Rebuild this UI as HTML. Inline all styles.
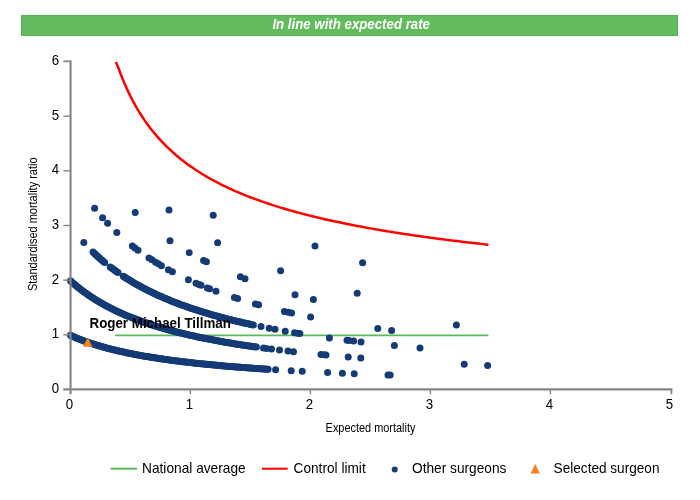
<!DOCTYPE html>
<html lang="en"><head><meta charset="utf-8"><title>Funnel plot</title>
<style>html,body{margin:0;padding:0;background:#fff;}svg{display:block;}text{font-family:"Liberation Sans",Arial,sans-serif;}</style></head><body>
<svg width="700" height="500" viewBox="0 0 700 500">
<rect width="700" height="500" fill="#fff"/>
<rect x="21.5" y="15.5" width="656" height="20" fill="#62bb5d" stroke="#56b455" stroke-width="1"/>
<text x="272.4" y="29.1" font-size="14.3" font-weight="bold" font-style="italic" fill="#fff" textLength="157.6" lengthAdjust="spacingAndGlyphs">In line with expected rate</text>
<line x1="116" y1="335.4" x2="487.6" y2="335.4" stroke="#5cb85c" stroke-width="1.9" stroke-linecap="round"/>
<path d="M115.86 61.90 L118.26 67.48 L120.66 73.96 L123.06 80.00 L125.46 85.63 L127.86 90.91 L130.26 95.86 L132.66 100.53 L135.06 104.94 L137.46 109.10 L139.86 113.05 L142.26 116.79 L144.66 120.36 L147.06 123.75 L149.46 126.99 L151.86 130.09 L154.26 133.05 L156.66 135.88 L159.06 138.60 L161.46 141.21 L163.86 143.72 L166.26 146.14 L168.66 148.46 L171.06 150.71 L173.46 152.87 L175.86 154.96 L178.26 156.98 L180.66 158.93 L183.06 160.82 L185.46 162.65 L187.86 164.42 L190.26 166.14 L192.66 167.81 L195.06 169.43 L197.46 171.01 L199.86 172.54 L202.26 174.03 L204.66 175.48 L207.06 176.89 L209.46 178.26 L211.86 179.60 L214.26 180.90 L216.66 182.17 L219.06 183.42 L221.46 184.63 L223.86 185.81 L226.26 186.97 L228.66 188.10 L231.06 189.20 L233.46 190.28 L235.86 191.33 L238.26 192.37 L240.66 193.38 L243.06 194.37 L245.46 195.34 L247.86 196.29 L250.26 197.22 L252.66 198.13 L255.06 199.03 L257.46 199.90 L259.86 200.76 L262.26 201.61 L264.66 202.44 L267.06 203.25 L269.46 204.05 L271.86 204.83 L274.26 205.60 L276.66 206.36 L279.06 207.10 L281.46 207.83 L283.86 208.55 L286.26 209.26 L288.66 209.95 L291.06 210.64 L293.46 211.31 L295.86 211.97 L298.26 212.62 L300.66 213.26 L303.06 213.89 L305.46 214.51 L307.86 215.13 L310.26 215.73 L312.66 216.32 L315.06 216.91 L317.46 217.48 L319.86 218.05 L322.26 218.61 L324.66 219.16 L327.06 219.71 L329.46 220.24 L331.86 220.77 L334.26 221.30 L336.66 221.81 L339.06 222.32 L341.46 222.82 L343.86 223.31 L346.26 223.80 L348.66 224.28 L351.06 224.76 L353.46 225.23 L355.86 225.69 L358.26 226.15 L360.66 226.60 L363.06 227.05 L365.46 227.49 L367.86 227.93 L370.26 228.36 L372.66 228.78 L375.06 229.20 L377.46 229.62 L379.86 230.03 L382.26 230.43 L384.66 230.83 L387.06 231.23 L389.46 231.62 L391.86 232.01 L394.26 232.39 L396.66 232.77 L399.06 233.15 L401.46 233.52 L403.86 233.89 L406.26 234.25 L408.66 234.61 L411.06 234.96 L413.46 235.31 L415.86 235.66 L418.26 236.01 L420.66 236.35 L423.06 236.68 L425.46 237.02 L427.86 237.35 L430.26 237.67 L432.66 238.00 L435.06 238.32 L437.46 238.64 L439.86 238.95 L442.26 239.26 L444.66 239.57 L447.06 239.88 L449.46 240.18 L451.86 240.48 L454.26 240.77 L456.66 241.07 L459.06 241.36 L461.46 241.65 L463.86 241.93 L466.26 242.22 L468.66 242.50 L471.06 242.78 L473.46 243.05 L475.86 243.33 L478.26 243.60 L480.66 243.87 L483.06 244.13 L485.46 244.40 L487.86 244.66 L488.46 244.72" fill="none" stroke="#ff0000" stroke-width="2.5" stroke-linejoin="round" stroke-linecap="butt"/>
<g fill="#143b76">
<circle cx="70.50" cy="335.37" r="3.5"/>
<circle cx="71.80" cy="335.95" r="3.5"/>
<circle cx="73.10" cy="336.52" r="3.5"/>
<circle cx="74.40" cy="337.08" r="3.5"/>
<circle cx="75.70" cy="337.63" r="3.5"/>
<circle cx="77.00" cy="338.16" r="3.5"/>
<circle cx="78.30" cy="338.69" r="3.5"/>
<circle cx="79.60" cy="339.20" r="3.5"/>
<circle cx="80.90" cy="339.71" r="3.5"/>
<circle cx="82.20" cy="340.20" r="3.5"/>
<circle cx="83.50" cy="340.69" r="3.5"/>
<circle cx="84.80" cy="341.16" r="3.5"/>
<circle cx="86.10" cy="341.63" r="3.5"/>
<circle cx="87.40" cy="342.09" r="3.5"/>
<circle cx="88.70" cy="342.54" r="3.5"/>
<circle cx="90.00" cy="342.98" r="3.5"/>
<circle cx="91.30" cy="343.41" r="3.5"/>
<circle cx="92.60" cy="343.83" r="3.5"/>
<circle cx="93.90" cy="344.25" r="3.5"/>
<circle cx="95.20" cy="344.66" r="3.5"/>
<circle cx="96.50" cy="345.06" r="3.5"/>
<circle cx="97.80" cy="345.46" r="3.5"/>
<circle cx="99.10" cy="345.84" r="3.5"/>
<circle cx="100.40" cy="346.22" r="3.5"/>
<circle cx="101.70" cy="346.60" r="3.5"/>
<circle cx="103.00" cy="346.97" r="3.5"/>
<circle cx="104.30" cy="347.33" r="3.5"/>
<circle cx="105.60" cy="347.69" r="3.5"/>
<circle cx="106.90" cy="348.04" r="3.5"/>
<circle cx="108.20" cy="348.38" r="3.5"/>
<circle cx="109.50" cy="348.72" r="3.5"/>
<circle cx="110.80" cy="349.05" r="3.5"/>
<circle cx="112.10" cy="349.38" r="3.5"/>
<circle cx="113.40" cy="349.70" r="3.5"/>
<circle cx="114.70" cy="350.02" r="3.5"/>
<circle cx="116.00" cy="350.33" r="3.5"/>
<circle cx="117.30" cy="350.64" r="3.5"/>
<circle cx="118.60" cy="350.95" r="3.5"/>
<circle cx="119.90" cy="351.24" r="3.5"/>
<circle cx="121.20" cy="351.54" r="3.5"/>
<circle cx="122.50" cy="351.83" r="3.5"/>
<circle cx="123.80" cy="352.11" r="3.5"/>
<circle cx="125.10" cy="352.39" r="3.5"/>
<circle cx="126.40" cy="352.67" r="3.5"/>
<circle cx="127.70" cy="352.94" r="3.5"/>
<circle cx="129.00" cy="353.21" r="3.5"/>
<circle cx="130.30" cy="353.48" r="3.5"/>
<circle cx="131.60" cy="353.74" r="3.5"/>
<circle cx="132.90" cy="353.99" r="3.5"/>
<circle cx="134.20" cy="354.25" r="3.5"/>
<circle cx="135.50" cy="354.50" r="3.5"/>
<circle cx="136.80" cy="354.74" r="3.5"/>
<circle cx="138.10" cy="354.99" r="3.5"/>
<circle cx="139.40" cy="355.23" r="3.5"/>
<circle cx="140.70" cy="355.46" r="3.5"/>
<circle cx="142.00" cy="355.70" r="3.5"/>
<circle cx="143.30" cy="355.93" r="3.5"/>
<circle cx="144.60" cy="356.16" r="3.5"/>
<circle cx="145.90" cy="356.38" r="3.5"/>
<circle cx="147.20" cy="356.60" r="3.5"/>
<circle cx="148.50" cy="356.82" r="3.5"/>
<circle cx="149.80" cy="357.03" r="3.5"/>
<circle cx="151.10" cy="357.25" r="3.5"/>
<circle cx="152.40" cy="357.46" r="3.5"/>
<circle cx="153.70" cy="357.66" r="3.5"/>
<circle cx="155.00" cy="357.87" r="3.5"/>
<circle cx="156.30" cy="358.07" r="3.5"/>
<circle cx="157.60" cy="358.27" r="3.5"/>
<circle cx="158.90" cy="358.47" r="3.5"/>
<circle cx="160.20" cy="358.66" r="3.5"/>
<circle cx="161.50" cy="358.85" r="3.5"/>
<circle cx="162.80" cy="359.04" r="3.5"/>
<circle cx="164.10" cy="359.23" r="3.5"/>
<circle cx="165.40" cy="359.42" r="3.5"/>
<circle cx="166.70" cy="359.60" r="3.5"/>
<circle cx="168.00" cy="359.78" r="3.5"/>
<circle cx="169.30" cy="359.96" r="3.5"/>
<circle cx="170.60" cy="360.14" r="3.5"/>
<circle cx="171.90" cy="360.31" r="3.5"/>
<circle cx="173.20" cy="360.48" r="3.5"/>
<circle cx="174.50" cy="360.65" r="3.5"/>
<circle cx="175.80" cy="360.82" r="3.5"/>
<circle cx="177.10" cy="360.99" r="3.5"/>
<circle cx="178.40" cy="361.15" r="3.5"/>
<circle cx="179.70" cy="361.32" r="3.5"/>
<circle cx="181.00" cy="361.48" r="3.5"/>
<circle cx="182.30" cy="361.64" r="3.5"/>
<circle cx="183.60" cy="361.79" r="3.5"/>
<circle cx="184.90" cy="361.95" r="3.5"/>
<circle cx="186.20" cy="362.10" r="3.5"/>
<circle cx="187.50" cy="362.26" r="3.5"/>
<circle cx="188.80" cy="362.41" r="3.5"/>
<circle cx="190.10" cy="362.56" r="3.5"/>
<circle cx="191.40" cy="362.70" r="3.5"/>
<circle cx="192.70" cy="362.85" r="3.5"/>
<circle cx="194.00" cy="362.99" r="3.5"/>
<circle cx="195.30" cy="363.14" r="3.5"/>
<circle cx="196.60" cy="363.28" r="3.5"/>
<circle cx="197.90" cy="363.42" r="3.5"/>
<circle cx="199.20" cy="363.55" r="3.5"/>
<circle cx="200.50" cy="363.69" r="3.5"/>
<circle cx="201.80" cy="363.83" r="3.5"/>
<circle cx="203.10" cy="363.96" r="3.5"/>
<circle cx="204.40" cy="364.09" r="3.5"/>
<circle cx="205.70" cy="364.22" r="3.5"/>
<circle cx="207.00" cy="364.35" r="3.5"/>
<circle cx="208.30" cy="364.48" r="3.5"/>
<circle cx="209.60" cy="364.61" r="3.5"/>
<circle cx="210.90" cy="364.74" r="3.5"/>
<circle cx="212.20" cy="364.86" r="3.5"/>
<circle cx="213.50" cy="364.99" r="3.5"/>
<circle cx="214.80" cy="365.11" r="3.5"/>
<circle cx="216.10" cy="365.23" r="3.5"/>
<circle cx="217.40" cy="365.35" r="3.5"/>
<circle cx="218.70" cy="365.47" r="3.5"/>
<circle cx="220.00" cy="365.59" r="3.5"/>
<circle cx="221.30" cy="365.70" r="3.5"/>
<circle cx="222.60" cy="365.82" r="3.5"/>
<circle cx="223.90" cy="365.93" r="3.5"/>
<circle cx="225.20" cy="366.05" r="3.5"/>
<circle cx="226.50" cy="366.16" r="3.5"/>
<circle cx="227.80" cy="366.27" r="3.5"/>
<circle cx="229.10" cy="366.38" r="3.5"/>
<circle cx="230.40" cy="366.49" r="3.5"/>
<circle cx="231.70" cy="366.60" r="3.5"/>
<circle cx="233.00" cy="366.70" r="3.5"/>
<circle cx="234.30" cy="366.81" r="3.5"/>
<circle cx="235.60" cy="366.91" r="3.5"/>
<circle cx="236.90" cy="367.02" r="3.5"/>
<circle cx="238.20" cy="367.12" r="3.5"/>
<circle cx="239.50" cy="367.22" r="3.5"/>
<circle cx="240.80" cy="367.33" r="3.5"/>
<circle cx="242.10" cy="367.43" r="3.5"/>
<circle cx="243.40" cy="367.53" r="3.5"/>
<circle cx="244.70" cy="367.62" r="3.5"/>
<circle cx="246.00" cy="367.72" r="3.5"/>
<circle cx="247.30" cy="367.82" r="3.5"/>
<circle cx="248.60" cy="367.92" r="3.5"/>
<circle cx="249.90" cy="368.01" r="3.5"/>
<circle cx="251.20" cy="368.11" r="3.5"/>
<circle cx="252.50" cy="368.20" r="3.5"/>
<circle cx="253.80" cy="368.29" r="3.5"/>
<circle cx="255.10" cy="368.38" r="3.5"/>
<circle cx="256.40" cy="368.48" r="3.5"/>
<circle cx="257.70" cy="368.57" r="3.5"/>
<circle cx="259.00" cy="368.66" r="3.5"/>
<circle cx="260.30" cy="368.75" r="3.5"/>
<circle cx="261.60" cy="368.83" r="3.5"/>
<circle cx="262.90" cy="368.92" r="3.5"/>
<circle cx="264.20" cy="369.01" r="3.5"/>
<circle cx="265.50" cy="369.09" r="3.5"/>
<circle cx="266.80" cy="369.18" r="3.5"/>
<circle cx="268.10" cy="369.26" r="3.5"/>
<circle cx="275.60" cy="369.74" r="3.5"/>
<circle cx="291.20" cy="370.66" r="3.5"/>
<circle cx="302.20" cy="371.26" r="3.5"/>
<circle cx="327.60" cy="372.52" r="3.5"/>
<circle cx="342.40" cy="373.17" r="3.5"/>
<circle cx="354.20" cy="373.66" r="3.5"/>
<circle cx="388.00" cy="374.92" r="3.5"/>
<circle cx="390.20" cy="374.99" r="3.5"/>
<circle cx="70.50" cy="280.84" r="3.5"/>
<circle cx="71.80" cy="282.01" r="3.5"/>
<circle cx="73.10" cy="283.15" r="3.5"/>
<circle cx="74.40" cy="284.26" r="3.5"/>
<circle cx="75.70" cy="285.36" r="3.5"/>
<circle cx="77.00" cy="286.43" r="3.5"/>
<circle cx="78.30" cy="287.48" r="3.5"/>
<circle cx="79.60" cy="288.51" r="3.5"/>
<circle cx="80.90" cy="289.52" r="3.5"/>
<circle cx="82.20" cy="290.51" r="3.5"/>
<circle cx="83.50" cy="291.48" r="3.5"/>
<circle cx="84.80" cy="292.43" r="3.5"/>
<circle cx="86.10" cy="293.36" r="3.5"/>
<circle cx="87.40" cy="294.27" r="3.5"/>
<circle cx="88.70" cy="295.17" r="3.5"/>
<circle cx="90.00" cy="296.05" r="3.5"/>
<circle cx="91.30" cy="296.92" r="3.5"/>
<circle cx="92.60" cy="297.77" r="3.5"/>
<circle cx="93.90" cy="298.60" r="3.5"/>
<circle cx="95.20" cy="299.42" r="3.5"/>
<circle cx="96.50" cy="300.22" r="3.5"/>
<circle cx="97.80" cy="301.01" r="3.5"/>
<circle cx="99.10" cy="301.79" r="3.5"/>
<circle cx="100.40" cy="302.55" r="3.5"/>
<circle cx="101.70" cy="303.30" r="3.5"/>
<circle cx="103.00" cy="304.04" r="3.5"/>
<circle cx="104.30" cy="304.76" r="3.5"/>
<circle cx="105.60" cy="305.47" r="3.5"/>
<circle cx="106.90" cy="306.17" r="3.5"/>
<circle cx="108.20" cy="306.86" r="3.5"/>
<circle cx="109.50" cy="307.54" r="3.5"/>
<circle cx="110.80" cy="308.21" r="3.5"/>
<circle cx="112.10" cy="308.86" r="3.5"/>
<circle cx="113.40" cy="309.51" r="3.5"/>
<circle cx="114.70" cy="310.14" r="3.5"/>
<circle cx="116.00" cy="310.77" r="3.5"/>
<circle cx="117.30" cy="311.38" r="3.5"/>
<circle cx="118.60" cy="311.99" r="3.5"/>
<circle cx="119.90" cy="312.59" r="3.5"/>
<circle cx="121.20" cy="313.17" r="3.5"/>
<circle cx="122.50" cy="313.75" r="3.5"/>
<circle cx="123.80" cy="314.32" r="3.5"/>
<circle cx="125.10" cy="314.89" r="3.5"/>
<circle cx="126.40" cy="315.44" r="3.5"/>
<circle cx="127.70" cy="315.98" r="3.5"/>
<circle cx="129.00" cy="316.52" r="3.5"/>
<circle cx="130.30" cy="317.05" r="3.5"/>
<circle cx="131.60" cy="317.57" r="3.5"/>
<circle cx="132.90" cy="318.09" r="3.5"/>
<circle cx="134.20" cy="318.60" r="3.5"/>
<circle cx="135.50" cy="319.10" r="3.5"/>
<circle cx="136.80" cy="319.59" r="3.5"/>
<circle cx="138.10" cy="320.08" r="3.5"/>
<circle cx="139.40" cy="320.56" r="3.5"/>
<circle cx="140.70" cy="321.03" r="3.5"/>
<circle cx="142.00" cy="321.50" r="3.5"/>
<circle cx="143.30" cy="321.96" r="3.5"/>
<circle cx="144.60" cy="322.41" r="3.5"/>
<circle cx="145.90" cy="322.86" r="3.5"/>
<circle cx="147.20" cy="323.30" r="3.5"/>
<circle cx="148.50" cy="323.74" r="3.5"/>
<circle cx="149.80" cy="324.17" r="3.5"/>
<circle cx="151.10" cy="324.59" r="3.5"/>
<circle cx="152.40" cy="325.01" r="3.5"/>
<circle cx="153.70" cy="325.43" r="3.5"/>
<circle cx="155.00" cy="325.84" r="3.5"/>
<circle cx="156.30" cy="326.24" r="3.5"/>
<circle cx="157.60" cy="326.64" r="3.5"/>
<circle cx="158.90" cy="327.03" r="3.5"/>
<circle cx="160.20" cy="327.42" r="3.5"/>
<circle cx="161.50" cy="327.81" r="3.5"/>
<circle cx="162.80" cy="328.19" r="3.5"/>
<circle cx="164.10" cy="328.56" r="3.5"/>
<circle cx="165.40" cy="328.93" r="3.5"/>
<circle cx="166.70" cy="329.30" r="3.5"/>
<circle cx="168.00" cy="329.66" r="3.5"/>
<circle cx="169.30" cy="330.02" r="3.5"/>
<circle cx="170.60" cy="330.37" r="3.5"/>
<circle cx="171.90" cy="330.72" r="3.5"/>
<circle cx="173.20" cy="331.07" r="3.5"/>
<circle cx="174.50" cy="331.41" r="3.5"/>
<circle cx="175.80" cy="331.74" r="3.5"/>
<circle cx="177.10" cy="332.08" r="3.5"/>
<circle cx="178.40" cy="332.41" r="3.5"/>
<circle cx="179.70" cy="332.73" r="3.5"/>
<circle cx="181.00" cy="333.05" r="3.5"/>
<circle cx="182.30" cy="333.37" r="3.5"/>
<circle cx="183.60" cy="333.69" r="3.5"/>
<circle cx="184.90" cy="334.00" r="3.5"/>
<circle cx="186.20" cy="334.31" r="3.5"/>
<circle cx="187.50" cy="334.61" r="3.5"/>
<circle cx="188.80" cy="334.91" r="3.5"/>
<circle cx="190.10" cy="335.21" r="3.5"/>
<circle cx="191.40" cy="335.51" r="3.5"/>
<circle cx="192.70" cy="335.80" r="3.5"/>
<circle cx="194.00" cy="336.09" r="3.5"/>
<circle cx="195.30" cy="336.37" r="3.5"/>
<circle cx="196.60" cy="336.65" r="3.5"/>
<circle cx="197.90" cy="336.93" r="3.5"/>
<circle cx="199.20" cy="337.21" r="3.5"/>
<circle cx="200.50" cy="337.48" r="3.5"/>
<circle cx="201.80" cy="337.75" r="3.5"/>
<circle cx="203.10" cy="338.02" r="3.5"/>
<circle cx="204.40" cy="338.29" r="3.5"/>
<circle cx="205.70" cy="338.55" r="3.5"/>
<circle cx="207.00" cy="338.81" r="3.5"/>
<circle cx="208.30" cy="339.07" r="3.5"/>
<circle cx="209.60" cy="339.32" r="3.5"/>
<circle cx="210.90" cy="339.57" r="3.5"/>
<circle cx="212.20" cy="339.82" r="3.5"/>
<circle cx="213.50" cy="340.07" r="3.5"/>
<circle cx="214.80" cy="340.32" r="3.5"/>
<circle cx="216.10" cy="340.56" r="3.5"/>
<circle cx="217.40" cy="340.80" r="3.5"/>
<circle cx="218.70" cy="341.04" r="3.5"/>
<circle cx="220.00" cy="341.27" r="3.5"/>
<circle cx="221.30" cy="341.50" r="3.5"/>
<circle cx="222.60" cy="341.74" r="3.5"/>
<circle cx="223.90" cy="341.96" r="3.5"/>
<circle cx="225.20" cy="342.19" r="3.5"/>
<circle cx="226.50" cy="342.42" r="3.5"/>
<circle cx="227.80" cy="342.64" r="3.5"/>
<circle cx="229.10" cy="342.86" r="3.5"/>
<circle cx="230.40" cy="343.08" r="3.5"/>
<circle cx="231.70" cy="343.29" r="3.5"/>
<circle cx="233.00" cy="343.51" r="3.5"/>
<circle cx="234.30" cy="343.72" r="3.5"/>
<circle cx="235.60" cy="343.93" r="3.5"/>
<circle cx="236.90" cy="344.14" r="3.5"/>
<circle cx="238.20" cy="344.34" r="3.5"/>
<circle cx="239.50" cy="344.55" r="3.5"/>
<circle cx="240.80" cy="344.75" r="3.5"/>
<circle cx="242.10" cy="344.95" r="3.5"/>
<circle cx="243.40" cy="345.15" r="3.5"/>
<circle cx="244.70" cy="345.35" r="3.5"/>
<circle cx="246.00" cy="345.55" r="3.5"/>
<circle cx="247.30" cy="345.74" r="3.5"/>
<circle cx="248.60" cy="345.93" r="3.5"/>
<circle cx="249.90" cy="346.12" r="3.5"/>
<circle cx="251.20" cy="346.31" r="3.5"/>
<circle cx="252.50" cy="346.50" r="3.5"/>
<circle cx="253.80" cy="346.69" r="3.5"/>
<circle cx="255.10" cy="346.87" r="3.5"/>
<circle cx="256.40" cy="347.05" r="3.5"/>
<circle cx="263.50" cy="348.02" r="3.5"/>
<circle cx="266.50" cy="348.42" r="3.5"/>
<circle cx="271.50" cy="349.07" r="3.5"/>
<circle cx="279.50" cy="350.06" r="3.5"/>
<circle cx="288.00" cy="351.06" r="3.5"/>
<circle cx="293.50" cy="351.68" r="3.5"/>
<circle cx="321.00" cy="354.52" r="3.5"/>
<circle cx="324.00" cy="354.80" r="3.5"/>
<circle cx="326.00" cy="354.99" r="3.5"/>
<circle cx="348.20" cy="356.94" r="3.5"/>
<circle cx="360.80" cy="357.95" r="3.5"/>
<circle cx="464.20" cy="364.37" r="3.5"/>
<circle cx="487.60" cy="365.49" r="3.5"/>
<circle cx="83.80" cy="242.59" r="3.5"/>
<circle cx="93.00" cy="252.08" r="3.5"/>
<circle cx="94.30" cy="253.33" r="3.5"/>
<circle cx="95.60" cy="254.55" r="3.5"/>
<circle cx="96.90" cy="255.75" r="3.5"/>
<circle cx="98.20" cy="256.93" r="3.5"/>
<circle cx="99.50" cy="258.08" r="3.5"/>
<circle cx="100.80" cy="259.22" r="3.5"/>
<circle cx="102.10" cy="260.34" r="3.5"/>
<circle cx="103.40" cy="261.44" r="3.5"/>
<circle cx="104.70" cy="262.52" r="3.5"/>
<circle cx="110.20" cy="266.90" r="3.5"/>
<circle cx="111.50" cy="267.89" r="3.5"/>
<circle cx="112.80" cy="268.87" r="3.5"/>
<circle cx="114.10" cy="269.83" r="3.5"/>
<circle cx="115.40" cy="270.77" r="3.5"/>
<circle cx="116.70" cy="271.70" r="3.5"/>
<circle cx="118.00" cy="272.62" r="3.5"/>
<circle cx="123.30" cy="276.21" r="3.5"/>
<circle cx="124.60" cy="277.06" r="3.5"/>
<circle cx="125.90" cy="277.89" r="3.5"/>
<circle cx="127.20" cy="278.71" r="3.5"/>
<circle cx="128.50" cy="279.52" r="3.5"/>
<circle cx="129.80" cy="280.32" r="3.5"/>
<circle cx="131.10" cy="281.11" r="3.5"/>
<circle cx="132.40" cy="281.89" r="3.5"/>
<circle cx="133.70" cy="282.65" r="3.5"/>
<circle cx="135.00" cy="283.41" r="3.5"/>
<circle cx="136.30" cy="284.15" r="3.5"/>
<circle cx="137.60" cy="284.88" r="3.5"/>
<circle cx="138.90" cy="285.61" r="3.5"/>
<circle cx="140.20" cy="286.32" r="3.5"/>
<circle cx="141.50" cy="287.02" r="3.5"/>
<circle cx="142.80" cy="287.72" r="3.5"/>
<circle cx="144.10" cy="288.40" r="3.5"/>
<circle cx="145.40" cy="289.08" r="3.5"/>
<circle cx="146.70" cy="289.75" r="3.5"/>
<circle cx="148.00" cy="290.41" r="3.5"/>
<circle cx="149.30" cy="291.06" r="3.5"/>
<circle cx="150.60" cy="291.70" r="3.5"/>
<circle cx="151.90" cy="292.33" r="3.5"/>
<circle cx="153.20" cy="292.95" r="3.5"/>
<circle cx="154.50" cy="293.57" r="3.5"/>
<circle cx="155.80" cy="294.18" r="3.5"/>
<circle cx="157.10" cy="294.78" r="3.5"/>
<circle cx="158.40" cy="295.38" r="3.5"/>
<circle cx="159.70" cy="295.96" r="3.5"/>
<circle cx="161.00" cy="296.54" r="3.5"/>
<circle cx="162.30" cy="297.11" r="3.5"/>
<circle cx="163.60" cy="297.68" r="3.5"/>
<circle cx="164.90" cy="298.24" r="3.5"/>
<circle cx="166.20" cy="298.79" r="3.5"/>
<circle cx="167.50" cy="299.33" r="3.5"/>
<circle cx="168.80" cy="299.87" r="3.5"/>
<circle cx="170.10" cy="300.40" r="3.5"/>
<circle cx="171.40" cy="300.93" r="3.5"/>
<circle cx="172.70" cy="301.45" r="3.5"/>
<circle cx="174.00" cy="301.96" r="3.5"/>
<circle cx="175.30" cy="302.47" r="3.5"/>
<circle cx="176.60" cy="302.97" r="3.5"/>
<circle cx="177.90" cy="303.47" r="3.5"/>
<circle cx="179.20" cy="303.96" r="3.5"/>
<circle cx="180.50" cy="304.45" r="3.5"/>
<circle cx="181.80" cy="304.93" r="3.5"/>
<circle cx="183.10" cy="305.40" r="3.5"/>
<circle cx="184.40" cy="305.87" r="3.5"/>
<circle cx="185.70" cy="306.33" r="3.5"/>
<circle cx="187.00" cy="306.79" r="3.5"/>
<circle cx="188.30" cy="307.25" r="3.5"/>
<circle cx="189.60" cy="307.69" r="3.5"/>
<circle cx="190.90" cy="308.14" r="3.5"/>
<circle cx="192.20" cy="308.58" r="3.5"/>
<circle cx="193.50" cy="309.01" r="3.5"/>
<circle cx="194.80" cy="309.44" r="3.5"/>
<circle cx="196.10" cy="309.87" r="3.5"/>
<circle cx="197.40" cy="310.29" r="3.5"/>
<circle cx="198.70" cy="310.70" r="3.5"/>
<circle cx="200.00" cy="311.12" r="3.5"/>
<circle cx="201.30" cy="311.52" r="3.5"/>
<circle cx="202.60" cy="311.93" r="3.5"/>
<circle cx="203.90" cy="312.33" r="3.5"/>
<circle cx="205.20" cy="312.72" r="3.5"/>
<circle cx="206.50" cy="313.11" r="3.5"/>
<circle cx="207.80" cy="313.50" r="3.5"/>
<circle cx="209.10" cy="313.89" r="3.5"/>
<circle cx="210.40" cy="314.27" r="3.5"/>
<circle cx="211.70" cy="314.64" r="3.5"/>
<circle cx="213.00" cy="315.01" r="3.5"/>
<circle cx="214.30" cy="315.38" r="3.5"/>
<circle cx="215.60" cy="315.75" r="3.5"/>
<circle cx="216.90" cy="316.11" r="3.5"/>
<circle cx="218.20" cy="316.47" r="3.5"/>
<circle cx="219.50" cy="316.82" r="3.5"/>
<circle cx="220.80" cy="317.17" r="3.5"/>
<circle cx="222.10" cy="317.52" r="3.5"/>
<circle cx="223.40" cy="317.86" r="3.5"/>
<circle cx="224.70" cy="318.21" r="3.5"/>
<circle cx="226.00" cy="318.54" r="3.5"/>
<circle cx="227.30" cy="318.88" r="3.5"/>
<circle cx="228.60" cy="319.21" r="3.5"/>
<circle cx="229.90" cy="319.54" r="3.5"/>
<circle cx="231.20" cy="319.86" r="3.5"/>
<circle cx="232.50" cy="320.19" r="3.5"/>
<circle cx="233.80" cy="320.51" r="3.5"/>
<circle cx="235.10" cy="320.82" r="3.5"/>
<circle cx="236.40" cy="321.14" r="3.5"/>
<circle cx="237.70" cy="321.45" r="3.5"/>
<circle cx="239.00" cy="321.76" r="3.5"/>
<circle cx="240.30" cy="322.06" r="3.5"/>
<circle cx="241.60" cy="322.36" r="3.5"/>
<circle cx="242.90" cy="322.66" r="3.5"/>
<circle cx="244.20" cy="322.96" r="3.5"/>
<circle cx="245.50" cy="323.26" r="3.5"/>
<circle cx="246.80" cy="323.55" r="3.5"/>
<circle cx="248.10" cy="323.84" r="3.5"/>
<circle cx="249.40" cy="324.12" r="3.5"/>
<circle cx="250.70" cy="324.41" r="3.5"/>
<circle cx="252.00" cy="324.69" r="3.5"/>
<circle cx="253.30" cy="324.97" r="3.5"/>
<circle cx="261.00" cy="326.58" r="3.5"/>
<circle cx="269.20" cy="328.21" r="3.5"/>
<circle cx="275.00" cy="329.31" r="3.5"/>
<circle cx="285.20" cy="331.15" r="3.5"/>
<circle cx="294.50" cy="332.74" r="3.5"/>
<circle cx="297.50" cy="333.23" r="3.5"/>
<circle cx="299.80" cy="333.61" r="3.5"/>
<circle cx="329.40" cy="338.00" r="3.5"/>
<circle cx="347.00" cy="340.30" r="3.5"/>
<circle cx="349.00" cy="340.55" r="3.5"/>
<circle cx="353.60" cy="341.11" r="3.5"/>
<circle cx="361.00" cy="341.99" r="3.5"/>
<circle cx="394.40" cy="345.60" r="3.5"/>
<circle cx="420.00" cy="348.01" r="3.5"/>
<circle cx="94.60" cy="208.18" r="3.5"/>
<circle cx="102.60" cy="217.72" r="3.5"/>
<circle cx="107.60" cy="223.19" r="3.5"/>
<circle cx="116.80" cy="232.40" r="3.5"/>
<circle cx="132.40" cy="245.88" r="3.5"/>
<circle cx="135.00" cy="247.91" r="3.5"/>
<circle cx="138.00" cy="250.18" r="3.5"/>
<circle cx="149.00" cy="257.91" r="3.5"/>
<circle cx="152.00" cy="259.87" r="3.5"/>
<circle cx="155.60" cy="262.15" r="3.5"/>
<circle cx="158.40" cy="263.87" r="3.5"/>
<circle cx="161.40" cy="265.66" r="3.5"/>
<circle cx="168.40" cy="269.64" r="3.5"/>
<circle cx="172.40" cy="271.81" r="3.5"/>
<circle cx="188.40" cy="279.74" r="3.5"/>
<circle cx="196.00" cy="283.15" r="3.5"/>
<circle cx="199.00" cy="284.43" r="3.5"/>
<circle cx="201.00" cy="285.27" r="3.5"/>
<circle cx="207.40" cy="287.88" r="3.5"/>
<circle cx="209.60" cy="288.74" r="3.5"/>
<circle cx="216.00" cy="291.18" r="3.5"/>
<circle cx="234.40" cy="297.57" r="3.5"/>
<circle cx="237.60" cy="298.60" r="3.5"/>
<circle cx="255.40" cy="303.92" r="3.5"/>
<circle cx="258.60" cy="304.82" r="3.5"/>
<circle cx="284.40" cy="311.38" r="3.5"/>
<circle cx="288.40" cy="312.31" r="3.5"/>
<circle cx="291.60" cy="313.04" r="3.5"/>
<circle cx="310.60" cy="317.09" r="3.5"/>
<circle cx="377.80" cy="328.53" r="3.5"/>
<circle cx="391.60" cy="330.45" r="3.5"/>
<circle cx="135.20" cy="212.60" r="3.5"/>
<circle cx="170.00" cy="240.67" r="3.5"/>
<circle cx="189.20" cy="252.66" r="3.5"/>
<circle cx="203.60" cy="260.46" r="3.5"/>
<circle cx="206.40" cy="261.87" r="3.5"/>
<circle cx="240.40" cy="276.87" r="3.5"/>
<circle cx="245.00" cy="278.64" r="3.5"/>
<circle cx="295.00" cy="294.77" r="3.5"/>
<circle cx="313.40" cy="299.59" r="3.5"/>
<circle cx="456.40" cy="325.10" r="3.5"/>
<circle cx="169.00" cy="210.01" r="3.5"/>
<circle cx="217.60" cy="242.70" r="3.5"/>
<circle cx="280.60" cy="270.77" r="3.5"/>
<circle cx="357.20" cy="293.19" r="3.5"/>
<circle cx="213.20" cy="215.30" r="3.5"/>
<circle cx="315.00" cy="246.04" r="3.5"/>
<circle cx="362.60" cy="262.64" r="3.5"/>
</g>
<g stroke="#868686" fill="none">
<line x1="70.55" y1="60.4" x2="70.55" y2="394.2" stroke-width="2.15"/>
<line x1="63.3" y1="389.3" x2="672.4" y2="389.3" stroke-width="2.2"/>
<line x1="63.3" y1="334.83" x2="70.5" y2="334.83" stroke-width="1.4"/>
<line x1="63.3" y1="280.17" x2="70.5" y2="280.17" stroke-width="1.4"/>
<line x1="63.3" y1="225.50" x2="70.5" y2="225.50" stroke-width="1.4"/>
<line x1="63.3" y1="170.83" x2="70.5" y2="170.83" stroke-width="1.4"/>
<line x1="63.3" y1="116.17" x2="70.5" y2="116.17" stroke-width="1.4"/>
<line x1="63.3" y1="61.30" x2="70.5" y2="61.30" stroke-width="1.8"/>
<line x1="190.40" y1="389" x2="190.40" y2="394.2" stroke-width="1.4"/>
<line x1="310.40" y1="389" x2="310.40" y2="394.2" stroke-width="1.4"/>
<line x1="430.40" y1="389" x2="430.40" y2="394.2" stroke-width="1.4"/>
<line x1="550.40" y1="389" x2="550.40" y2="394.2" stroke-width="1.4"/>
<line x1="671.40" y1="389" x2="671.40" y2="394.2" stroke-width="1.8"/>
</g>
<g font-size="14.4" fill="#000">
<text x="59.2" y="392.90" text-anchor="end" textLength="7.4" lengthAdjust="spacingAndGlyphs">0</text>
<text x="59.2" y="338.23" text-anchor="end" textLength="7.4" lengthAdjust="spacingAndGlyphs">1</text>
<text x="59.2" y="283.57" text-anchor="end" textLength="7.4" lengthAdjust="spacingAndGlyphs">2</text>
<text x="59.2" y="228.90" text-anchor="end" textLength="7.4" lengthAdjust="spacingAndGlyphs">3</text>
<text x="59.2" y="174.23" text-anchor="end" textLength="7.4" lengthAdjust="spacingAndGlyphs">4</text>
<text x="59.2" y="119.57" text-anchor="end" textLength="7.4" lengthAdjust="spacingAndGlyphs">5</text>
<text x="59.2" y="64.90" text-anchor="end" textLength="7.4" lengthAdjust="spacingAndGlyphs">6</text>
<text x="69.50" y="409.2" text-anchor="middle" textLength="7.4" lengthAdjust="spacingAndGlyphs">0</text>
<text x="189.50" y="409.2" text-anchor="middle" textLength="7.4" lengthAdjust="spacingAndGlyphs">1</text>
<text x="309.50" y="409.2" text-anchor="middle" textLength="7.4" lengthAdjust="spacingAndGlyphs">2</text>
<text x="429.50" y="409.2" text-anchor="middle" textLength="7.4" lengthAdjust="spacingAndGlyphs">3</text>
<text x="549.50" y="409.2" text-anchor="middle" textLength="7.4" lengthAdjust="spacingAndGlyphs">4</text>
<text x="669.50" y="409.2" text-anchor="middle" textLength="7.4" lengthAdjust="spacingAndGlyphs">5</text>
</g>
<text x="325.6" y="431.6" font-size="13" fill="#000" textLength="89.8" lengthAdjust="spacingAndGlyphs">Expected mortality</text>
<text transform="translate(37.3,291) rotate(-90)" font-size="13" fill="#000" textLength="133.5" lengthAdjust="spacingAndGlyphs">Standardised mortality ratio</text>
<polygon points="87.70,337.40 92.50,346.80 82.90,346.80" fill="#f5821f"/>
<text x="89.5" y="328" font-size="14" font-weight="bold" fill="#000" textLength="141.4" lengthAdjust="spacingAndGlyphs">Roger Michael Tillman</text>
<line x1="110.7" y1="468.7" x2="137" y2="468.7" stroke="#5cb85c" stroke-width="2"/>
<text x="142" y="473" font-size="14.3" fill="#000" textLength="103.7" lengthAdjust="spacingAndGlyphs">National average</text>
<line x1="262" y1="468.7" x2="287.7" y2="468.7" stroke="#ff0000" stroke-width="2"/>
<text x="293.5" y="473" font-size="14.3" fill="#000" textLength="72.2" lengthAdjust="spacingAndGlyphs">Control limit</text>
<circle cx="394.7" cy="469.6" r="3.0" fill="#143b76"/>
<text x="412" y="473" font-size="14.3" fill="#000" textLength="94.4" lengthAdjust="spacingAndGlyphs">Other surgeons</text>
<polygon points="535.2,464.0 539.9,473.6 530.5,473.6" fill="#f5821f"/>
<text x="553.6" y="473" font-size="14.3" fill="#000" textLength="105.9" lengthAdjust="spacingAndGlyphs">Selected surgeon</text>
</svg></body></html>
